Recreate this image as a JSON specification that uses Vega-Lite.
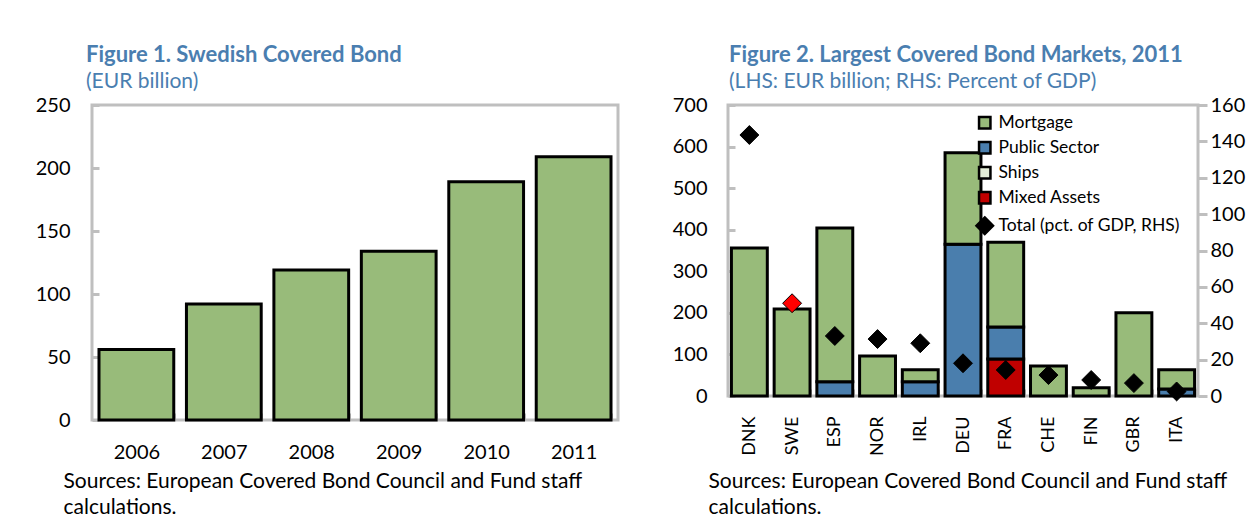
{
  "$schema": "https://vega.github.io/schema/vega-lite/v6.json",
  "background": "white",
  "padding": {"left": 33, "top": 42, "right": 5, "bottom": 5},
  "config": {
    "font": "Lato",
    "view": {"stroke": "#bfbfbf", "strokeWidth": 3},
    "axis": {
      "labelFont": "Lato", "labelFontSize": 20, "labelColor": "#000",
      "grid": false, "domain": false,
      "tickColor": "#bfbfbf", "tickWidth": 3,
      "titleFont": "Lato", "titleFontWeight": "normal", "titleColor": "#000", "titleFontSize": 21
    },
    "title": {
      "font": "Lato", "fontSize": 22, "fontWeight": "bold", "color": "#4A7EB0",
      "subtitleFont": "Lato", "subtitleFontSize": 21, "subtitleColor": "#4A7EB0",
      "anchor": "start", "frame": "group", "subtitlePadding": 4, "offset": 2
    },
    "concat": {"spacing": 50}
  },
  "hconcat": [
    {
      "width": 526,
      "height": 315,
      "title": {"text": "Figure 1. Swedish Covered Bond", "subtitle": "(EUR billion)", "dx": -6},
      "data": {"values": [
        {"year": "2006", "value": 56},
        {"year": "2007", "value": 92},
        {"year": "2008", "value": 119},
        {"year": "2009", "value": 134},
        {"year": "2010", "value": 189},
        {"year": "2011", "value": 209}
      ]},
      "mark": {"type": "bar", "fill": "#98BB7A", "stroke": "#000", "strokeWidth": 3},
      "encoding": {
        "x": {
          "field": "year", "type": "nominal",
          "scale": {"paddingInner": 0.145, "paddingOuter": 0.08},
          "axis": {
            "labelAngle": 0, "tickBand": "extent", "tickSize": -7, "labelPadding": 29,
            "title": ["Sources: European Covered Bond Council and Fund staff", "calculations."],
            "titleAnchor": "start", "titleAlign": "left", "titleBaseline": "top",
            "titleX": -29, "titleY": 50, "titleLineHeight": 26
          }
        },
        "y": {
          "field": "value", "type": "quantitative",
          "scale": {"domain": [0, 250]},
          "axis": {"values": [0, 50, 100, 150, 200, 250], "tickSize": -7, "labelPadding": 29, "title": null}
        }
      }
    },
    {
      "width": 470,
      "height": 291,
      "title": {"text": "Figure 2. Largest Covered Bond Markets, 2011", "subtitle": "(LHS: EUR billion; RHS: Percent of GDP)", "dx": 1},
      "encoding": {
        "x": {
          "field": "country", "type": "nominal",
          "sort": ["DNK", "SWE", "ESP", "NOR", "IRL", "DEU", "FRA", "CHE", "FIN", "GBR", "ITA"],
          "scale": {"paddingInner": 0.16, "paddingOuter": 0.08},
          "axis": {
            "labelAngle": -90, "labelFontSize": 18, "tickBand": "extent", "tickSize": -7, "labelPadding": 27,
            "title": ["Sources: European Covered Bond Council and Fund staff", "calculations."],
            "titleAnchor": "start", "titleAlign": "left", "titleBaseline": "top",
            "titleX": -20, "titleY": 74, "titleLineHeight": 26
          }
        }
      },
      "layer": [
        {
          "data": {"values": [
            {"country": "DNK", "type": "Mortgage", "value": 356},
            {"country": "SWE", "type": "Mortgage", "value": 209},
            {"country": "ESP", "type": "Public Sector", "value": 34},
            {"country": "ESP", "type": "Mortgage", "value": 370},
            {"country": "NOR", "type": "Mortgage", "value": 96},
            {"country": "IRL", "type": "Public Sector", "value": 34},
            {"country": "IRL", "type": "Mortgage", "value": 29},
            {"country": "DEU", "type": "Public Sector", "value": 365},
            {"country": "DEU", "type": "Mortgage", "value": 220},
            {"country": "FRA", "type": "Mixed Assets", "value": 89},
            {"country": "FRA", "type": "Public Sector", "value": 77},
            {"country": "FRA", "type": "Mortgage", "value": 204},
            {"country": "CHE", "type": "Mortgage", "value": 72},
            {"country": "FIN", "type": "Mortgage", "value": 20},
            {"country": "GBR", "type": "Mortgage", "value": 200},
            {"country": "ITA", "type": "Public Sector", "value": 17},
            {"country": "ITA", "type": "Mortgage", "value": 46}
          ]},
          "transform": [
            {"calculate": "indexof(['Mixed Assets', 'Ships', 'Public Sector', 'Mortgage'], datum.type)", "as": "stackIndex"}
          ],
          "mark": {"type": "bar", "stroke": "#000", "strokeWidth": 3},
          "encoding": {
            "y": {
              "field": "value", "type": "quantitative", "stack": "zero",
              "scale": {"domain": [0, 700]},
              "axis": {"values": [0, 100, 200, 300, 400, 500, 600, 700], "tickSize": -7, "labelPadding": 28, "title": null}
            },
            "order": {"field": "stackIndex", "type": "quantitative", "sort": "ascending"},
            "fill": {
              "field": "type", "type": "nominal",
              "scale": {"domain": ["Mixed Assets", "Ships", "Public Sector", "Mortgage"], "range": ["#C00000", "#E4EED8", "#4A7EAD", "#98BB7A"]},
              "legend": null
            }
          }
        },
        {
          "data": {"values": [
            {"country": "DNK", "series": "Total (pct. of GDP, RHS)", "pct": 143.5},
            {"country": "SWE", "series": "Total (pct. of GDP, RHS)", "pct": 51},
            {"country": "ESP", "series": "Total (pct. of GDP, RHS)", "pct": 33},
            {"country": "NOR", "series": "Total (pct. of GDP, RHS)", "pct": 31.3},
            {"country": "IRL", "series": "Total (pct. of GDP, RHS)", "pct": 29},
            {"country": "DEU", "series": "Total (pct. of GDP, RHS)", "pct": 18},
            {"country": "FRA", "series": "Total (pct. of GDP, RHS)", "pct": 14.3},
            {"country": "CHE", "series": "Total (pct. of GDP, RHS)", "pct": 11.5},
            {"country": "FIN", "series": "Total (pct. of GDP, RHS)", "pct": 8.8},
            {"country": "GBR", "series": "Total (pct. of GDP, RHS)", "pct": 7.1},
            {"country": "ITA", "series": "Total (pct. of GDP, RHS)", "pct": 2.5}
          ]},
          "mark": {"type": "point", "filled": true, "stroke": "#000", "strokeWidth": 1, "size": 170, "opacity": 1},
          "encoding": {
            "y": {
              "field": "pct", "type": "quantitative",
              "scale": {"domain": [0, 160]},
              "axis": {"orient": "right", "values": [0, 20, 40, 60, 80, 100, 120, 140, 160], "tickSize": 9, "labelPadding": 3, "title": null}
            },
            "fill": {
              "field": "series", "type": "nominal",
              "condition": {"test": "datum.country === 'SWE'", "value": "#FF0000"},
              "scale": {
                "domain": ["Mortgage", "Public Sector", "Ships", "Mixed Assets", "Total (pct. of GDP, RHS)"],
                "range": ["#98BB7A", "#4A7EAD", "#E4EED8", "#C00000", "#000000"]
              },
              "legend": {
                "orient": "none", "legendX": 248, "legendY": 9, "title": null,
                "labelFont": "Lato", "labelFontSize": 17.5, "labelColor": "#000", "labelLimit": 400,
                "symbolSize": 130, "symbolStrokeColor": "#000", "symbolStrokeWidth": 2.5,
                "labelOffset": 5, "rowPadding": 3
              }
            },
            "shape": {
              "field": "series", "type": "nominal",
              "scale": {
                "domain": ["Mortgage", "Public Sector", "Ships", "Mixed Assets", "Total (pct. of GDP, RHS)"],
                "range": ["square", "square", "square", "square", "M0,-1.45L1.45,0L0,1.45L-1.45,0Z"]
              }
            }
          }
        }
      ],
      "resolve": {
        "scale": {"y": "independent", "fill": "independent", "shape": "independent"},
        "legend": {"fill": "independent", "shape": "independent"}
      }
    }
  ]
}
